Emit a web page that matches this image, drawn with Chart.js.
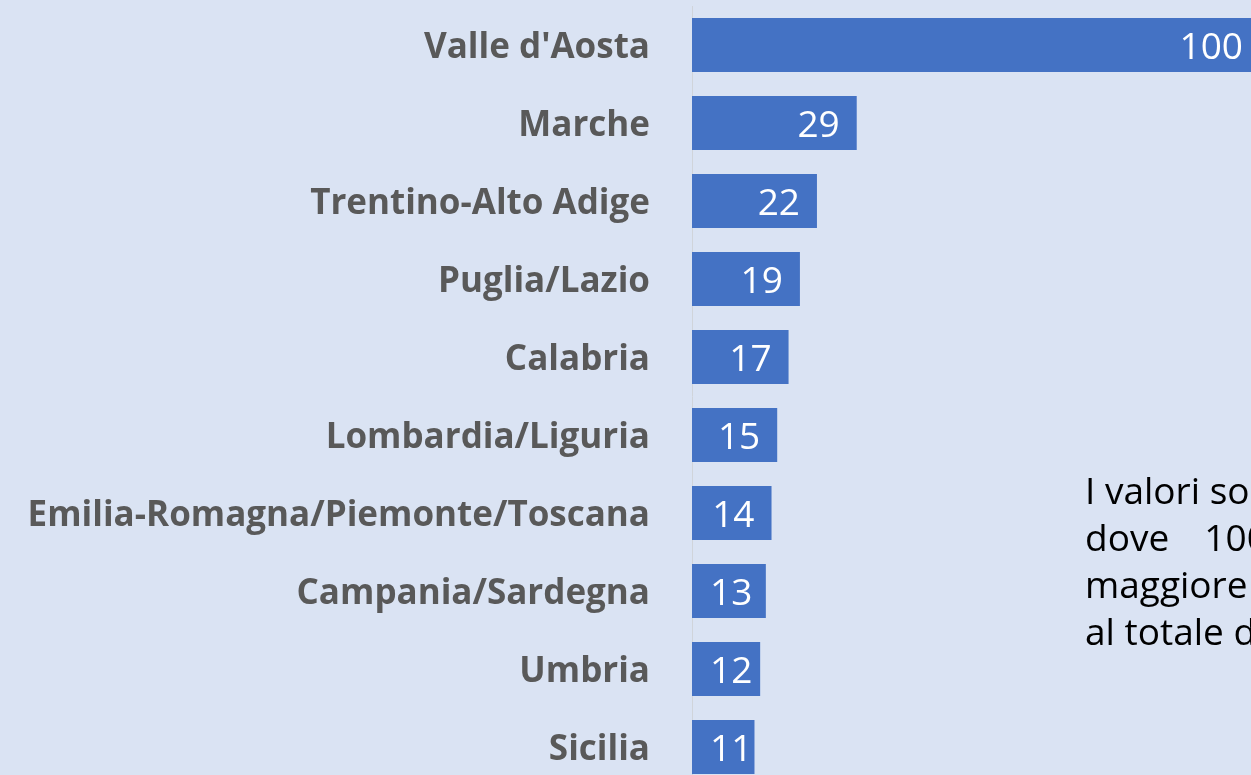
<!DOCTYPE html>
<html>
<head>
<meta charset="utf-8">
<script src="https://cdn.jsdelivr.net/npm/chart.js@4"></script>
<style>
  html, body { margin: 0; padding: 0; background: #dae3f3; overflow: hidden; }
  body { width: 1251px; height: 775px; position: relative; }
  #chart { position: absolute; left: 0; top: 0; }
  #note { position: absolute; left: 1085px; top: 466px; width: 470px;
    font-family: "Open Sans", sans-serif; font-size: 37px; line-height: 47px; color: #000; }
  #note div { white-space: nowrap; }
  #note .j { text-align: justify; text-align-last: justify; }
</style>
</head>
<body>
<canvas id="chart" width="1270" height="800"></canvas>
<div id="note">
  <div>I valori sono numeri indice</div>
  <div class="j">dove 100 è la regione</div>
  <div>maggiore incidenza rispetto</div>
  <div>al totale dei casi rilevati</div>
</div>
<script>
const regions = [
  "Valle d'Aosta",
  "Marche",
  "Trentino-Alto Adige",
  "Puglia/Lazio",
  "Calabria",
  "Lombardia/Liguria",
  "Emilia-Romagna/Piemonte/Toscana",
  "Campania/Sardegna",
  "Umbria",
  "Sicilia"
];
const indexValues = [100, 29, 22, 19, 17, 15, 14, 13, 12, 11];

// white value labels at the inner end of each bar
const barLabels = {
  id: "barLabels",
  afterDatasetsDraw(chart) {
    const ctx = chart.ctx;
    const meta = chart.getDatasetMeta(0);
    ctx.save();
    ctx.font = "37px 'Open Sans'";
    ctx.fillStyle = "#ffffff";
    ctx.textAlign = "right";
    ctx.textBaseline = "middle";
    meta.data.forEach((bar, i) => {
      const txt = String(indexValues[i]);
      const w = ctx.measureText(txt).width;
      const x = Math.max(bar.x - 17, bar.base + 18 + w);
      ctx.fillText(txt, x, bar.y + 3);
    });
    ctx.restore();
  }
};

new Chart(document.getElementById("chart"), {
  type: "bar",
  data: {
    labels: regions,
    datasets: [{
      data: indexValues,
      backgroundColor: "#4472c4",
      borderWidth: 0,
      categoryPercentage: 1,
      barPercentage: 0.69
    }]
  },
  options: {
    indexAxis: "y",
    responsive: false,
    animation: false,
    layout: { padding: { top: 6, bottom: 14, left: 0, right: 10 } },
    plugins: { legend: { display: false }, tooltip: { enabled: false } },
    scales: {
      x: { display: false, min: 0, max: 100 },
      y: {
        afterFit(scale) {
          scale.width = 692;
          scale.paddingTop = 0;
          scale.paddingBottom = 0;
        },
        grid: { display: false, drawTicks: false },
        border: { display: true, color: "#d0d4da", width: 1 },
        ticks: {
          padding: 42,
          labelOffset: 3,
          color: "#595959",
          font: { family: "'Open Sans'", size: 35, weight: "bold" }
        }
      }
    }
  },
  plugins: [barLabels]
});
</script>
</body>
</html>
